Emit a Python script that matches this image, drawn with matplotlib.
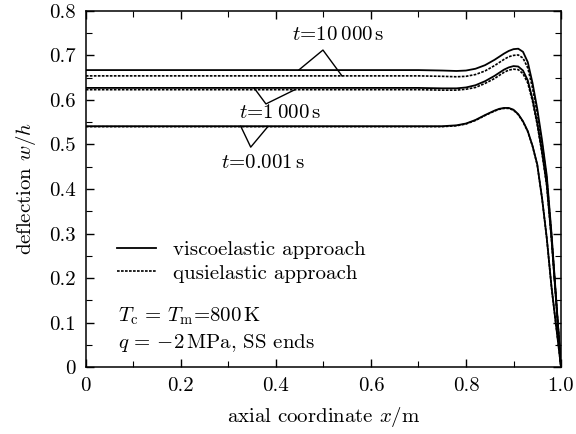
import numpy as np
import matplotlib
matplotlib.use("Agg")
import matplotlib.pyplot as plt
import matplotlib.ticker as mticker

plt.rcParams["font.family"] = "serif"
plt.rcParams["font.serif"] = ["cmr10"]
plt.rcParams["mathtext.fontset"] = "cm"
plt.rcParams["axes.formatter.use_mathtext"] = True
plt.rcParams["axes.unicode_minus"] = True

# ── Data ──────────────────────────────────────────────────────────────────────
x_pos = [0.0, 0.1, 0.2, 0.3, 0.4, 0.5, 0.6, 0.7, 0.75, 0.78, 0.80, 0.82, 0.84,
         0.86, 0.87, 0.88, 0.89, 0.90, 0.91, 0.92, 0.93, 0.94, 0.95, 0.96,
         0.97, 0.98, 0.99, 1.0]

visc_t10000 = [0.667, 0.667, 0.667, 0.667, 0.667, 0.667, 0.667, 0.667, 0.666,
               0.665, 0.666, 0.670, 0.678, 0.690, 0.697, 0.704, 0.710, 0.714,
               0.715, 0.708, 0.685, 0.638, 0.580, 0.510, 0.430, 0.300, 0.150, 0.0]
quasi_t10000 = [0.654, 0.654, 0.654, 0.654, 0.654, 0.654, 0.654, 0.654, 0.653,
                0.652, 0.653, 0.657, 0.665, 0.677, 0.684, 0.691, 0.697, 0.700,
                0.701, 0.694, 0.672, 0.627, 0.570, 0.502, 0.424, 0.296, 0.148, 0.0]
visc_t1000 = [0.627, 0.627, 0.627, 0.627, 0.627, 0.627, 0.627, 0.627, 0.626,
              0.626, 0.628, 0.633, 0.642, 0.654, 0.661, 0.668, 0.673, 0.676,
              0.675, 0.666, 0.644, 0.602, 0.548, 0.484, 0.410, 0.288, 0.144, 0.0]
quasi_t1000 = [0.623, 0.623, 0.623, 0.623, 0.623, 0.623, 0.623, 0.623, 0.622,
               0.622, 0.624, 0.628, 0.637, 0.648, 0.655, 0.662, 0.667, 0.669,
               0.668, 0.659, 0.638, 0.597, 0.544, 0.480, 0.407, 0.286, 0.143, 0.0]
visc_t0001 = [0.541, 0.541, 0.541, 0.541, 0.541, 0.541, 0.541, 0.541, 0.541,
              0.543, 0.547, 0.555, 0.566, 0.576, 0.580, 0.582, 0.582, 0.578,
              0.568, 0.552, 0.530, 0.497, 0.455, 0.380, 0.290, 0.180, 0.090, 0.0]
quasi_t0001 = [0.540, 0.540, 0.540, 0.540, 0.540, 0.540, 0.540, 0.540, 0.540,
               0.542, 0.546, 0.554, 0.565, 0.575, 0.579, 0.581, 0.581, 0.577,
               0.567, 0.551, 0.529, 0.496, 0.454, 0.379, 0.289, 0.179, 0.089, 0.0]

# annotation labels: text, text position, apex, leg ends
labels = [r"$t$=10$\:$000$\,$s", r"$t$=1$\:$000$\,$s", r"$t$=0.001$\,$s"]
label_xy = [(0.531, 0.746), (0.408, 0.571), (0.373, 0.458)]
apex_xy = [(0.499, 0.712), (0.379, 0.591), (0.347, 0.494)]
leg_left = [(0.448, 0.667), (0.354, 0.627), (0.326, 0.541)]
leg_right = [(0.539, 0.654), (0.440, 0.623), (0.383, 0.540)]

FS = 15
DOT = (0, (1.6, 0.8))

fig = plt.figure(figsize=(5.76, 4.34), dpi=100)
ax = fig.add_axes([0.149, 0.154, 0.825, 0.821])

for ys in (visc_t10000, visc_t1000, visc_t0001):
    ax.plot(x_pos, ys, color="black", linewidth=1.3)
for ys in (quasi_t10000, quasi_t1000, quasi_t0001):
    ax.plot(x_pos, ys, color="black", linewidth=1.2, linestyle=DOT)

for lab, txy, a, l, r in zip(labels, label_xy, apex_xy, leg_left, leg_right):
    ax.plot([l[0], a[0], r[0]], [l[1], a[1], r[1]], color="black", linewidth=1.0)
    ax.text(txy[0], txy[1], lab, ha="center", va="center", fontsize=FS)

# legend
h1, = ax.plot([], [], color="black", linewidth=1.3)
h2, = ax.plot([], [], color="black", linewidth=1.2, linestyle=DOT)
ax.legend([h1, h2], ["viscoelastic approach", "qusielastic approach"],
          loc="upper left", bbox_to_anchor=(0.035, 0.397), frameon=False,
          fontsize=FS, handlelength=1.85, handletextpad=0.85, labelspacing=0.25,
          borderaxespad=0.3)

ax.text(0.067, 0.143, r"$T_{\rm c}\,=\,T_{\rm m}$=800$\,$K", transform=ax.transAxes,
        fontsize=FS, va="center")
ax.text(0.067, 0.068, r"$q\,=\,{-}2\,$MPa, SS ends", transform=ax.transAxes,
        fontsize=FS, va="center")

ax.set_xlim(0, 1.0)
ax.set_ylim(0, 0.8)
ax.xaxis.set_major_locator(mticker.MultipleLocator(0.2))
ax.xaxis.set_minor_locator(mticker.MultipleLocator(0.1))
ax.yaxis.set_major_locator(mticker.MultipleLocator(0.1))
ax.yaxis.set_minor_locator(mticker.MultipleLocator(0.05))
ax.xaxis.set_major_formatter(mticker.FuncFormatter(lambda v, _: "0" if abs(v) < 1e-9 else f"{v:.1f}"))
ax.yaxis.set_major_formatter(mticker.FuncFormatter(lambda v, _: "0" if abs(v) < 1e-9 else f"{v:.1f}"))
ax.tick_params(which="both", direction="in", top=True, right=True, labelsize=FS)
ax.tick_params(which="major", length=6, width=1.0, pad=7)
ax.tick_params(which="minor", length=4, width=0.8)
for s in ax.spines.values():
    s.set_linewidth(1.1)

ax.set_xlabel(r"axial coordinate $x$/m", fontsize=FS, labelpad=7)
ax.set_ylabel(r"deflection $w$/$h$", fontsize=FS, labelpad=8)

fig.savefig("out.png", dpi=100)
